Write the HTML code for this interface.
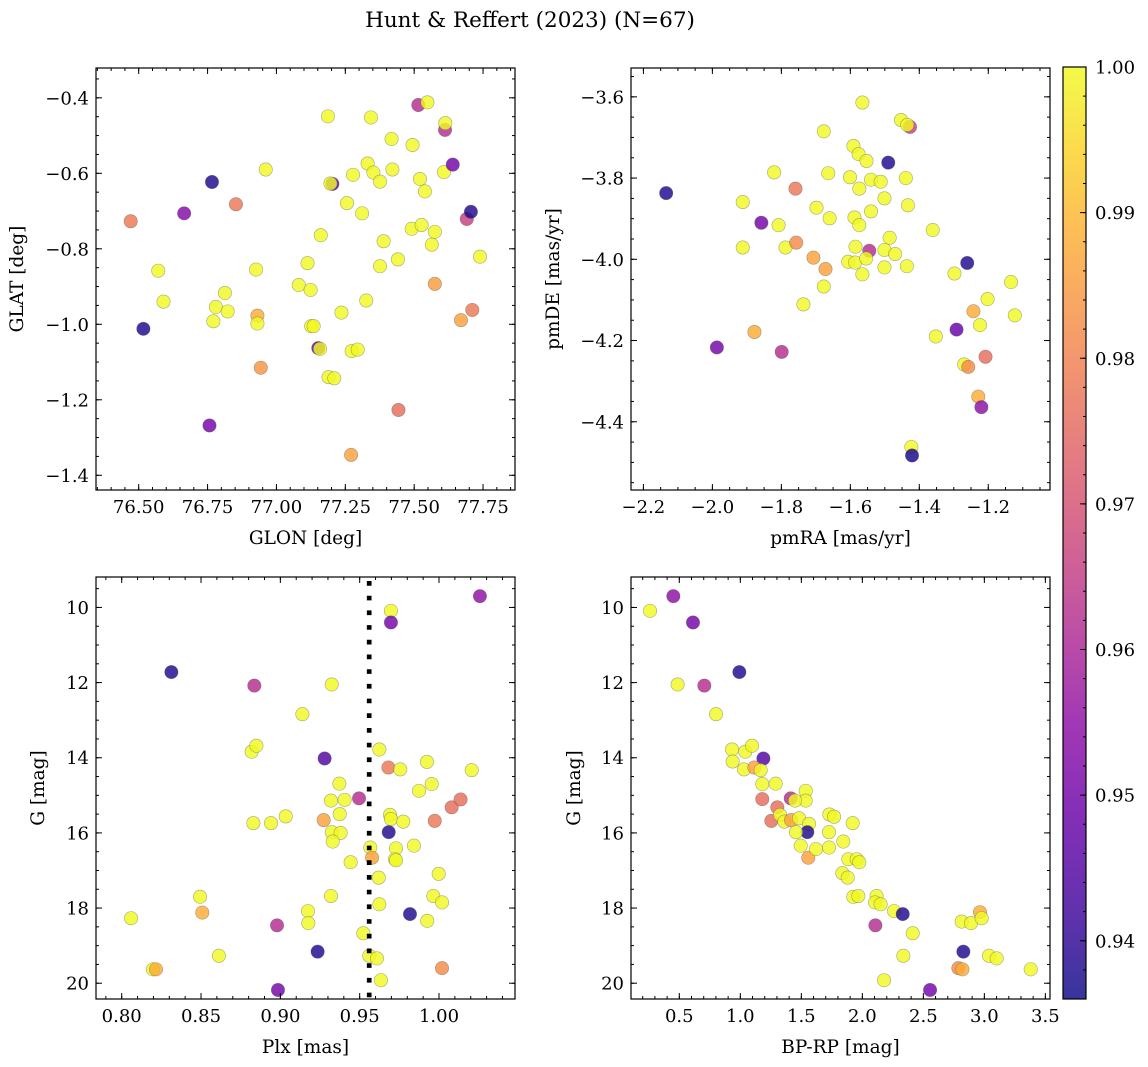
<!DOCTYPE html>
<html><head><meta charset="utf-8"><style>
html,body{margin:0;padding:0;background:#fff}
svg{display:block;font-family:"DejaVu Serif","Liberation Serif",serif}
</style></head><body>
<svg id="fig" width="1148" height="1067" viewBox="0 0 1148 1067" xmlns="http://www.w3.org/2000/svg">
<text x="530" y="27" font-size="21.5" text-anchor="middle">Hunt &amp; Reffert (2023) (N=67)</text>
</svg>
<script>
// ---- data ----
const p1Glon=[76.471,76.517,76.571,76.590,76.665,76.757,76.766,76.780,76.771,76.813,76.823,76.853,76.926,76.931,76.931,76.943,76.961,77.081,77.113,77.124,77.126,77.135,77.152,77.158,77.161,77.187,77.203,77.196,77.189,77.210,77.236,77.256,77.271,77.278,77.273,77.295,77.311,77.326,77.331,77.343,77.352,77.376,77.389,77.376,77.418,77.421,77.441,77.443,77.491,77.494,77.515,77.548,77.521,77.527,77.539,77.564,77.575,77.575,77.608,77.612,77.613,77.640,77.670,77.691,77.706,77.711,77.739];
const p1Glat=[-0.727,-1.012,-0.858,-0.940,-0.706,-1.268,-0.623,-0.954,-0.992,-0.917,-0.966,-0.682,-0.855,-0.977,-0.998,-1.115,-0.590,-0.896,-0.838,-0.909,-1.005,-1.005,-1.063,-1.065,-0.764,-0.449,-0.628,-0.627,-1.140,-1.143,-0.969,-0.679,-1.346,-0.604,-1.071,-1.067,-0.706,-0.937,-0.574,-0.452,-0.598,-0.622,-0.780,-0.846,-0.509,-0.590,-0.828,-1.227,-0.747,-0.525,-0.419,-0.412,-0.615,-0.737,-0.648,-0.789,-0.755,-0.893,-0.597,-0.485,-0.467,-0.577,-0.989,-0.721,-0.702,-0.962,-0.821];
const p1Prob=[.978,.938,1,1,.953,.95,.938,1,1,1,1,.978,1,.988,1,.984,1,1,1,1,1,1,.945,1,1,1,.945,1,1,1,1,1,.986,1,1,1,1,1,1,1,1,1,1,1,1,1,1,.976,1,1,.962,1,1,1,1,1,1,.985,1,.962,1,.95,.986,.966,.938,.978,1];

const p2PmRA=[-2.134,-1.987,-1.912,-1.912,-1.858,-1.821,-1.808,-1.878,-1.799,-1.788,-1.759,-1.757,-1.736,-1.707,-1.698,-1.677,-1.677,-1.672,-1.664,-1.660,-1.601,-1.591,-1.588,-1.585,-1.606,-1.586,-1.576,-1.574,-1.574,-1.565,-1.565,-1.553,-1.545,-1.554,-1.540,-1.540,-1.512,-1.501,-1.501,-1.501,-1.490,-1.486,-1.470,-1.453,-1.427,-1.435,-1.439,-1.433,-1.436,-1.423,-1.421,-1.361,-1.352,-1.298,-1.292,-1.261,-1.270,-1.258,-1.243,-1.224,-1.229,-1.220,-1.208,-1.202,-1.134,-1.123];
const p2PmDE=[-3.837,-4.217,-3.859,-3.971,-3.910,-3.786,-3.916,-4.179,-4.228,-3.971,-3.826,-3.959,-4.111,-3.996,-3.873,-3.685,-4.067,-4.024,-3.788,-3.899,-3.798,-3.721,-3.897,-3.969,-4.006,-4.008,-3.741,-3.826,-3.916,-3.614,-4.037,-3.758,-3.979,-3.998,-3.804,-3.882,-3.809,-3.850,-3.977,-4.020,-3.762,-3.947,-3.987,-3.657,-3.674,-3.669,-3.800,-3.867,-4.017,-4.462,-4.483,-3.928,-4.190,-4.035,-4.173,-4.009,-4.259,-4.265,-4.128,-4.162,-4.338,-4.364,-4.240,-4.098,-4.056,-4.138];
const p2Prob=[.938,.95,1,1,.95,1,1,.988,.962,1,.978,.982,1,.986,1,1,1,.986,1,1,1,1,1,1,1,1,1,1,1,1,1,1,.962,1,1,1,1,1,1,1,.938,1,1,1,.966,1,1,1,1,1,.937,1,1,1,.948,.938,1,.982,.988,1,.988,.955,.976,1,1,1];

const p3Plx=[1.0258,0.9697,0.9697,0.8313,0.8836,0.9324,0.9139,0.8819,0.8849,0.9279,0.9624,0.9681,0.9756,0.9924,1.0206,0.9372,0.9874,0.9954,0.9319,0.9405,0.9496,1.0080,1.0136,0.8830,0.8941,0.9034,0.9273,0.9374,0.9691,0.9697,0.9775,0.9973,0.9324,0.9380,0.9330,0.9683,0.9567,0.9578,0.9729,0.9723,0.9729,0.9842,0.9443,0.9620,0.9998,0.8494,0.9319,0.9964,1.0019,0.9624,0.8508,0.8059,0.9174,0.9176,0.9817,0.8979,0.9926,0.9523,0.8613,0.9235,0.9561,0.9609,0.8197,0.8216,1.0019,0.9634,0.8985];
const p3G=[9.70,10.09,10.40,11.72,12.08,12.05,12.84,13.84,13.68,14.02,13.78,14.26,14.31,14.11,14.33,14.69,14.88,14.70,15.14,15.12,15.08,15.32,15.11,15.74,15.74,15.56,15.66,15.50,15.52,15.63,15.70,15.68,15.98,16.00,16.23,15.98,16.39,16.66,16.41,16.70,16.73,16.34,16.78,17.19,17.09,17.70,17.68,17.68,17.85,17.90,18.12,18.27,18.08,18.40,18.16,18.46,18.34,18.67,19.27,19.16,19.27,19.34,19.63,19.63,19.60,19.92,20.18];
const p3Prob=[.955,1,.95,.938,.962,1,1,1,1,.945,1,.978,1,1,1,1,1,1,1,1,.962,.976,.976,1,1,1,.986,1,1,1,1,.978,1,1,1,.938,1,.986,1,1,1,1,1,1,1,1,1,1,1,1,.988,1,1,1,.938,.962,1,1,1,.938,1,1,1,.988,.982,1,.95];
const dividerPlx=[0.956];

const p4Color=[0.260,0.451,0.612,0.486,0.705,0.992,0.801,0.932,1.041,1.096,1.189,0.937,1.030,1.115,1.167,1.180,1.290,1.180,1.536,1.536,1.413,1.448,1.303,1.254,1.325,1.361,1.415,1.481,1.563,1.549,1.456,1.495,1.557,1.620,1.727,1.727,1.730,1.768,1.921,1.844,1.885,1.954,1.975,1.836,1.880,1.926,1.967,2.117,2.104,2.150,2.260,2.331,2.107,2.413,2.336,2.178,2.555,2.814,2.891,2.964,2.978,2.828,3.038,3.101,2.787,2.820,3.380];
const p4G=[10.09,9.70,10.40,12.05,12.08,11.72,12.84,13.78,13.84,13.68,14.02,14.10,14.31,14.26,14.33,14.70,14.69,15.10,14.88,15.14,15.08,15.14,15.32,15.68,15.52,15.70,15.66,15.61,15.76,15.98,15.98,16.34,16.66,16.43,16.39,15.98,15.51,15.57,15.74,16.23,16.70,16.70,16.78,17.07,17.19,17.70,17.68,17.68,17.85,17.90,18.08,18.16,18.46,18.67,19.27,19.92,20.18,18.36,18.40,18.11,18.27,19.16,19.27,19.34,19.60,19.63,19.63];
const p4Prob=[1,.955,.95,1,.962,.938,1,1,1,1,.945,1,1,.986,1,1,1,.976,1,1,.962,1,.976,.976,1,1,.986,1,1,.938,1,1,.986,1,1,1,1,1,1,1,1,1,1,1,1,1,1,1,1,1,1,.938,.962,1,1,1,.95,1,1,.988,1,.938,1,1,.982,.988,1];

const cbarTicks=[0.94,0.95,0.96,0.97,0.98,0.99,1.00];
const VMIN=0.936, VMAX=1.0;

// ---- helpers ----
const NS="http://www.w3.org/2000/svg";
const svg=document.getElementById('fig');
function mk(tag,attrs,parent){const e=document.createElementNS(NS,tag);for(const k in attrs)e.setAttribute(k,attrs[k]);(parent||svg).appendChild(e);return e;}
const stops=["#0d0887","#41049d","#6a00a8","#8f0da4","#b12a90","#cc4778","#e16462","#f2844b","#fca636","#fcce25","#f0f921"];
function hex(h){return [parseInt(h.substr(1,2),16),parseInt(h.substr(3,2),16),parseInt(h.substr(5,2),16)];}
function plasma(t){t=Math.max(0,Math.min(1,t));const f=t*10,i=Math.min(9,Math.floor(f)),u=f-i;const a=hex(stops[i]),b=hex(stops[i+1]);return 'rgb('+a.map((v,k)=>Math.round(v+(b[k]-v)*u)).join(',')+')';}
function cmap(p){return plasma((p-VMIN)/(VMAX-VMIN));}
function fmt(v,d){return (v<0?'\u2212':'')+Math.abs(v).toFixed(d);}
const TFS=18, LFS=18.5;

function panel(cfg){
  const g=mk('g',{});
  
  
  const {x0,x1,y0,y1}=cfg.box;
  const sx=v=>x0+(v-cfg.xlim[0])/(cfg.xlim[1]-cfg.xlim[0])*(x1-x0);
  const sy=v=>y1-(v-cfg.ylim[0])/(cfg.ylim[1]-cfg.ylim[0])*(y1-y0);
  const clip='clip-'+cfg.name;
  const cp=mk('clipPath',{id:clip},g);mk('rect',{x:x0,y:y0,width:x1-x0,height:y1-y0},cp);
  const pts=mk('g',{'clip-path':'url(#'+clip+')'},g);
  
  
  for(let i=0;i<cfg.xs.length;i++){
    const c=mk('circle',{cx:sx(cfg.xs[i]),cy:sy(cfg.ys[i]),r:6.7,fill:cmap(cfg.ps[i]),'fill-opacity':0.82,stroke:'#555','stroke-opacity':0.5,'stroke-width':0.6},pts);
    
    
  }
  if(cfg.vline){for(const v of cfg.vline){const l=mk('line',{x1:sx(v),x2:sx(v),y1:y0+4,y2:y1,stroke:'#000','stroke-width':4.7,'stroke-dasharray':'4.7 10'},pts);
    
    }}
  const tk=mk('g',{stroke:'#000','stroke-width':1},g);
  const eps=1e-9;
  function range(a,b,s){const r=[];const st=Math.ceil((a-eps)/s);for(let k=st;k*s<=b+eps;k++)r.push(+(k*s).toFixed(6));return r;}
  const xlo=Math.min(...cfg.xlim),xhi=Math.max(...cfg.xlim),ylo=Math.min(...cfg.ylim),yhi=Math.max(...cfg.ylim);
  range(xlo,xhi,cfg.xminor).forEach(v=>{const x=sx(v);mk('line',{x1:x,x2:x,y1:y1,y2:y1-3},tk);mk('line',{x1:x,x2:x,y1:y0,y2:y0+3},tk);});
  range(ylo,yhi,cfg.yminor).forEach(v=>{const y=sy(v);mk('line',{x1:x0,x2:x0+3,y1:y,y2:y},tk);mk('line',{x1:x1,x2:x1-3,y1:y,y2:y},tk);});
  cfg.xticks.forEach(v=>{const x=sx(v);mk('line',{x1:x,x2:x,y1:y1,y2:y1-6},tk);mk('line',{x1:x,x2:x,y1:y0,y2:y0+6},tk);
    const t=mk('text',{x:x,y:y1+23,'font-size':TFS,'text-anchor':'middle'},g);t.textContent=fmt(v,cfg.xd);
    
    });
  cfg.yticks.forEach(v=>{const y=sy(v);mk('line',{x1:x0,x2:x0+6,y1:y,y2:y},tk);mk('line',{x1:x1,x2:x1-6,y1:y,y2:y},tk);
    const t=mk('text',{x:x0-7,y:y+6.5,'font-size':TFS,'text-anchor':'end'},g);t.textContent=fmt(v,cfg.yd);
    
    });
  const fr=mk('rect',{x:x0,y:y0,width:x1-x0,height:y1-y0,fill:'none',stroke:'#000','stroke-width':1.2},g);
  
  
  const xl=mk('text',{x:(x0+x1)/2,y:y1+54,'font-size':LFS,'text-anchor':'middle'},g);xl.textContent=cfg.xlabel;
  
  
  const yx=cfg.ylx, yy=(y0+y1)/2;
  const yl=mk('text',{x:yx,y:yy,'font-size':LFS,'text-anchor':'middle',transform:'rotate(-90 '+yx+' '+yy+')'},g);yl.textContent=cfg.ylabel;
  
  
}
function st(a,b,s){const r=[];for(let v=a;v<=b+1e-9;v+=s)r.push(+v.toFixed(6));return r;}

panel({name:'glon-glat-panel',box:{x0:96,x1:515,y0:68,y1:490},xlim:[76.345,77.866],ylim:[-1.439,-0.321],
  xs:p1Glon,ys:p1Glat,ps:p1Prob,xticks:st(76.5,77.75,0.25),xd:2,xminor:0.05,yticks:st(-1.4,-0.4,0.2),yd:1,yminor:0.05,
  xlabel:'GLON [deg]',ylabel:'GLAT [deg]',ylx:23});
panel({name:'proper-motion-panel',box:{x0:631,x1:1050,y0:68,y1:490},xlim:[-2.236,-1.021],ylim:[-4.568,-3.529],
  xs:p2PmRA,ys:p2PmDE,ps:p2Prob,xticks:st(-2.2,-1.2,0.2),xd:1,xminor:0.05,yticks:st(-4.4,-3.6,0.2),yd:1,yminor:0.05,
  xlabel:'pmRA [mas/yr]',ylabel:'pmDE [mas/yr]',ylx:559});
panel({name:'parallax-panel',box:{x0:96,x1:515,y0:577,y1:999},xlim:[0.7838,1.0479],ylim:[20.42,9.19],
  xs:p3Plx,ys:p3G,ps:p3Prob,vline:dividerPlx,xticks:st(0.8,1.0,0.05),xd:2,xminor:0.01,yticks:st(10,20,2),yd:0,yminor:0.5,
  xlabel:'Plx [mas]',ylabel:'G [mag]',ylx:44});
panel({name:'cmd-panel',box:{x0:631,x1:1050,y0:577,y1:999},xlim:[0.104,3.538],ylim:[20.42,9.19],
  xs:p4Color,ys:p4G,ps:p4Prob,xticks:st(0.5,3.5,0.5),xd:1,xminor:0.1,yticks:st(10,20,2),yd:0,yminor:0.5,
  xlabel:'BP-RP [mag]',ylabel:'G [mag]',ylx:580});

(function(){
  const x0=1063,x1=1086,y0=67,y1=999;
  const g=mk('g',{});
  
  
  const defs=mk('defs',{},g);
  const lg=mk('linearGradient',{id:'cbgrad',x1:0,y1:1,x2:0,y2:0},defs);
  for(let i=0;i<=20;i++){mk('stop',{offset:(i/20),'stop-color':plasma(i/20)},lg);}
  mk('rect',{x:x0,y:y0,width:x1-x0,height:y1-y0,fill:'url(#cbgrad)','fill-opacity':0.82},g);
  const sy=v=>y1-(v-VMIN)/(VMAX-VMIN)*(y1-y0);
  for(let k=Math.ceil(VMIN/0.002);k*0.002<=VMAX+1e-9;k++){const y=sy(k*0.002);mk('line',{x1:x1,x2:x1-3,y1:y,y2:y,stroke:'#000'},g);}
  cbarTicks.forEach(v=>{const y=sy(v);mk('line',{x1:x1,x2:x1-6,y1:y,y2:y,stroke:'#000'},g);
    const t=mk('text',{x:x1+9,y:y+6.5,'font-size':TFS},g);t.textContent=v.toFixed(2);
    
    });
  mk('rect',{x:x0,y:y0,width:x1-x0,height:y1-y0,fill:'none',stroke:'#000','stroke-width':1.2},g);
})();
</script>
</body></html>
